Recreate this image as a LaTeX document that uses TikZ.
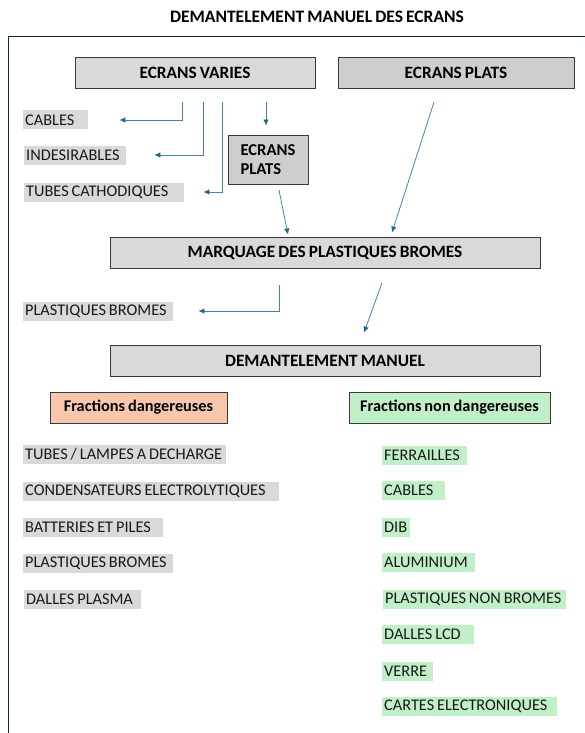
\documentclass[tikz,border=0pt]{standalone}
\usepackage{fontspec}
\setmainfont{Carlito}[WordSpace=0.8]
\usetikzlibrary{arrows.meta}

\definecolor{boxgray}{HTML}{D9D9D9}
\definecolor{boxline}{HTML}{3A3A3A}
\definecolor{flowblue}{HTML}{3F87A6}
\definecolor{flowdark}{HTML}{1F6A8A}
\definecolor{framenavy}{HTML}{0E2841}
\definecolor{dangerpink}{HTML}{F6C6AD}
\definecolor{safegreen}{HTML}{C1F0C8}

\begin{document}
\begin{tikzpicture}[x=1pt,y=-1pt,
    bigbox/.style={draw=boxline,line width=0.9pt,fill=boxgray,inner sep=0pt,
      font=\fontsize{17.3}{18}\selectfont\bfseries},
    fracbox/.style={bigbox,minimum height=31pt,font=\fontsize{16.3}{18}\selectfont\bfseries},
    lbl/.style={anchor=west,fill=boxgray,minimum height=19pt,inner xsep=2pt,inner ysep=0pt,
      align=flush left,text=black!90,font=\fontsize{16.3}{17}\selectfont},
    lblgreen/.style={lbl,fill=safegreen},
    flow/.style={draw=flowblue,line width=0.8pt,-{Latex[length=6pt,width=5.5pt,color=flowdark]}}]
    \useasboundingbox (0,0) rectangle (585,733);
    % title and frame
    \node[font=\fontsize{17.5}{18}\selectfont\bfseries] (title) at (317,17) {DEMANTELEMENT MANUEL DES ECRANS};
    \draw[framenavy,line width=0.9pt] (585,36) -- (8,36) -- (8,733);
    % main boxes
    \node[bigbox,minimum width=240pt,minimum height=31pt] (varies) at (195,72.5) {ECRANS VARIES};
    \node[bigbox,minimum width=236pt,minimum height=31pt,fill=boxgray!95!black] (plats) at (456,72.5) {ECRANS PLATS};
    \node[bigbox,minimum width=80pt,minimum height=49pt,fill=boxgray!95!black,align=left,
      font=\fontsize{16.6}{19}\selectfont\bfseries] (plats2) at (268,159.5) {ECRANS\\PLATS};
    \node[bigbox,minimum width=430pt,minimum height=31pt] (marquage) at (325,252.5) {MARQUAGE DES PLASTIQUES BROMES};
    \node[bigbox,minimum width=430pt,minimum height=31pt] (manuel) at (325,360.5) {DEMANTELEMENT MANUEL};
    \node[fracbox,minimum width=177pt,fill=dangerpink] (danger) at (138.5,407.5) {Fractions dangereuses};
    \node[fracbox,minimum width=201pt,fill=safegreen] (safe) at (449.5,407.5) {Fractions non dangereuses};
    % sorted out before marking
    \node[lbl,text width=61pt] (cables) at (23,120) {CABLES};
    \node[lbl,text width=98pt] (indesirables) at (24,155) {INDESIRABLES};
    \node[lbl,text width=156pt] (cathodiques) at (24,192) {TUBES CATHODIQUES};
    \node[lbl,text width=146pt] (bromes) at (23,311) {PLASTIQUES BROMES};
    % dangerous fractions
    \node[lbl,text width=199pt] (lampes) at (23,454.5) {TUBES / LAMPES A DECHARGE};
    \node[lbl,text width=252pt] (condens) at (23,491.5) {CONDENSATEURS ELECTROLYTIQUES};
    \node[lbl,text width=136pt] (batteries) at (23,527.5) {BATTERIES ET PILES};
    \node[lbl,text width=146pt] (bromes2) at (23,563.5) {PLASTIQUES BROMES};
    \node[lbl,text width=113pt] (plasma) at (24,599.5) {DALLES PLASMA};
    % non dangerous fractions
    \node[lblgreen,text width=81pt] (ferrailles) at (382,455.5) {FERRAILLES};
    \node[lblgreen,text width=59pt] (cables2) at (382,490.5) {CABLES};
    \node[lblgreen,text width=24pt] (dib) at (382,527.5) {DIB};
    \node[lblgreen,text width=89pt] (alu) at (382,562.5) {ALUMINIUM};
    \node[lblgreen,text width=179pt] (nonbromes) at (383,599.5) {PLASTIQUES NON BROMES};
    \node[lblgreen,text width=88pt] (lcd) at (382,634.5) {DALLES LCD};
    \node[lblgreen,text width=47pt] (verre) at (382,671.5) {VERRE};
    \node[lblgreen,text width=171pt] (cartes) at (382,706.5) {CARTES ELECTRONIQUES};
    % arrow starts
    \coordinate (s1) at (182,102);
    \coordinate (s2) at (203,102);
    \coordinate (s3) at (222,102);
    \coordinate (s4) at (266,102);
    \coordinate (s5) at (434,102);
    \coordinate (s6) at (279,190);
    \coordinate (s7) at (279,285);
    \coordinate (s8) at (382,283);
    % connectors
    \draw[flow] (s1) |- ([xshift=31pt]cables.east);
    \draw[flow] (s2) |- ([xshift=28pt]indesirables.east);
    \draw[flow] (s3) |- ([xshift=19pt]cathodiques.east);
    \draw[flow] (s4) -- ([yshift=9pt]plats2.north -| s4);
    \draw[flow] (s5) -- ([shift={(67pt,4pt)}]marquage.north);
    \draw[flow] (s6) -- ([shift={(-37pt,2pt)}]marquage.north);
    \draw[flow] (s7) |- ([xshift=25pt]bromes.east);
    \draw[flow] (s8) -- ([shift={(39pt,12pt)}]manuel.north);
\end{tikzpicture}
\end{document}
